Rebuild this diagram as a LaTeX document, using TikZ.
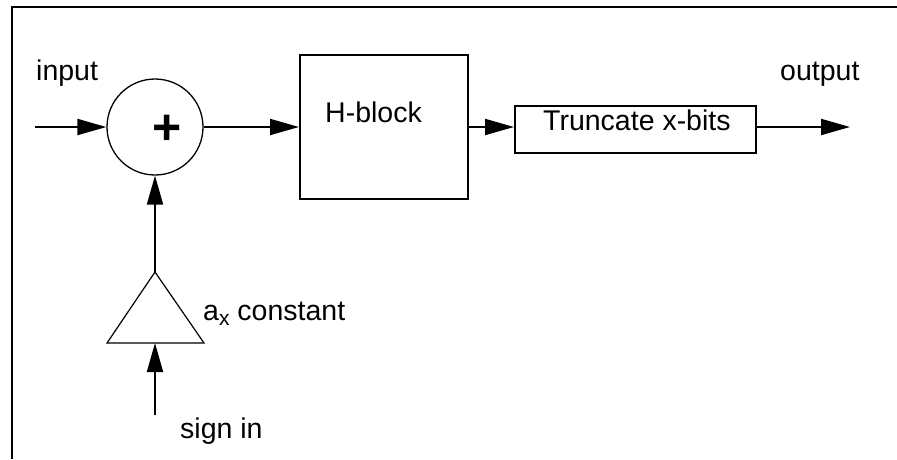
\documentclass[tikz,border=0pt]{standalone}
\usepackage{fontspec}
\setmainfont{Liberation Sans}
\usetikzlibrary{arrows.meta}

\tikzset{
  wire/.style={line width=2pt, -{Triangle[length=29pt,width=16pt]}},
  block/.style={draw, line width=2pt, inner sep=0pt},
  lbl/.style={font=\fontsize{28.5}{34}\selectfont, inner sep=0pt, anchor=base west},
}

\begin{document}
\begin{tikzpicture}[x=1pt,y=-1pt]
  \useasboundingbox (0,0) rectangle (897,459);

  % open frame: top and left edges only
  \draw[line width=2pt] (12,459) -- (12,7) -- (897,7);

  % summing junction
  \node[draw, circle, line width=1.3pt, minimum size=96pt, inner sep=0pt] (sum) at (155,127) {};
  \node[font=\fontsize{50}{50}\selectfont\bfseries, inner sep=0pt] (plus) at (167.5,130) {+};

  % processing blocks
  \node[block, minimum width=168pt, minimum height=144pt] (hblock) at (384,127) {};
  \node[lbl] (htext) at (325,122) {H-block};
  \node[block, minimum width=241pt, minimum height=47pt] (trunc) at (635.5,129.5) {};
  \node[lbl] (ttext) at (543,130) {Truncate x-bits};

  % gain triangle
  \coordinate (apex) at (155,272);
  \coordinate (baseR) at (204,343);
  \coordinate (baseL) at (107,343);
  \coordinate (baseM) at (155,343);
  \draw[line width=1.2pt, line join=miter] (apex) -- (baseR) -- (baseL) -- cycle;

  % free ends of the signal lines
  \coordinate (in) at (35,127);
  \coordinate (out) at (850,127);
  \coordinate (sign) at (155,415);

  % signal flow
  \draw[wire] (in) -- (sum.west);
  \draw[wire] (sum.east) -- (hblock.west);
  \draw[wire] (hblock.east) -- (hblock.east -| trunc.west);
  \draw[wire] (out -| trunc.east) -- (out);
  \draw[wire] (apex) -- (sum.south);
  \draw[wire] (sign) -- (baseM);

  % labels
  \node[lbl] (inlbl) at (36,80) {input};
  \node[lbl] (outlbl) at (780,80) {output};
  \node[lbl] (gain) at (203,320) {a\raisebox{-5pt}{\fontsize{21}{21}\selectfont x} constant};
  \node[lbl] (signlbl) at (180,438) {sign in};
\end{tikzpicture}
\end{document}
